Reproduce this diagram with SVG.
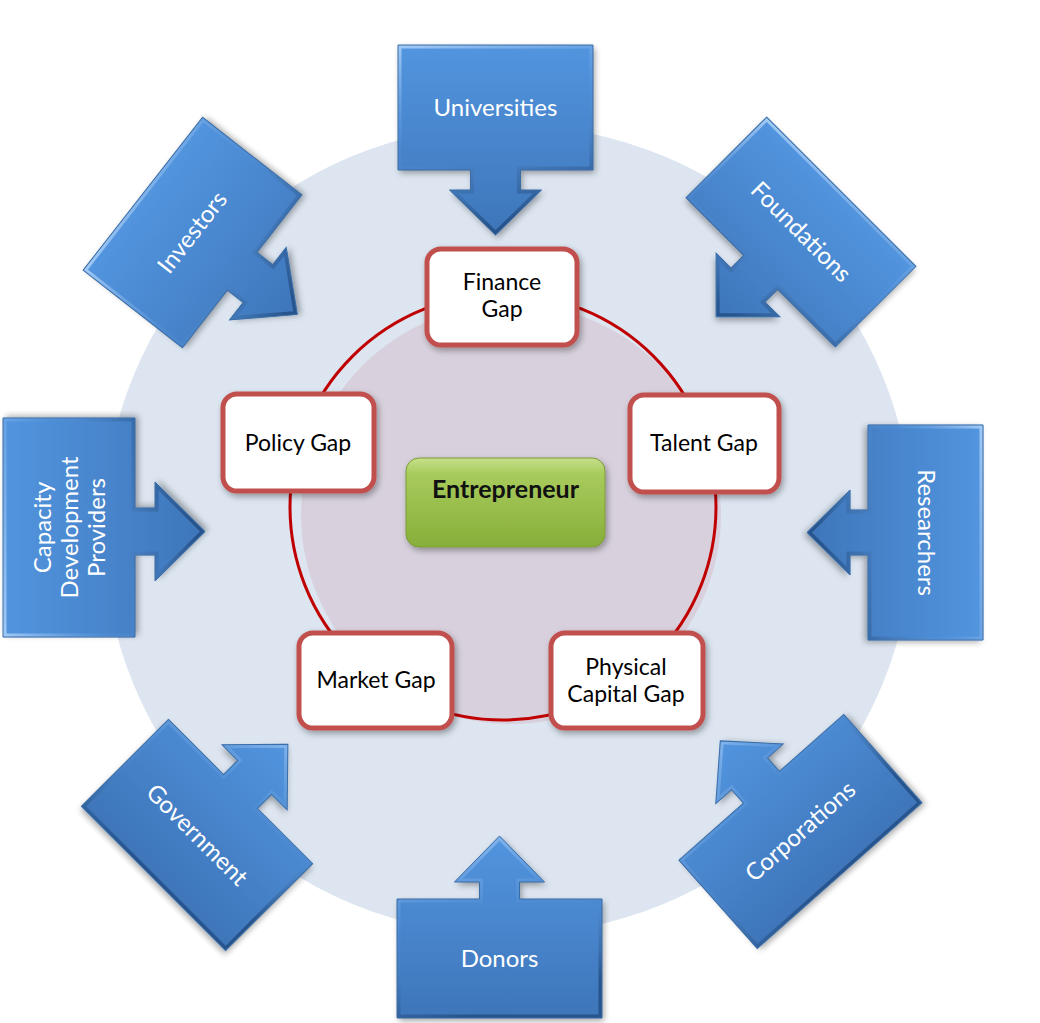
<svg xmlns="http://www.w3.org/2000/svg" xmlns:xlink="http://www.w3.org/1999/xlink" width="1040" height="1023" viewBox="0 0 1040 1023">
<defs>
<style>
.blue{fill:url(#gBlue);}
.bev{fill:none;stroke:url(#gBev);stroke-width:7;}
.edge{fill:none;stroke:#3a6da8;stroke-width:1;}
.bt{font-family:Lato,"Liberation Sans",sans-serif;font-size:24px;fill:#ffffff;text-anchor:middle;}
.box{fill:#ffffff;stroke:#c0504d;stroke-width:5;}
.gt{font-family:Lato,"Liberation Sans",sans-serif;font-size:23px;fill:#000000;text-anchor:middle;}
</style>
<linearGradient id="gBlue" x1="0" y1="0" x2="0" y2="1">
<stop offset="0" stop-color="#5295df"/><stop offset="1" stop-color="#3e75b9"/>
</linearGradient>
<linearGradient id="gBev" x1="0" y1="0" x2="0.3" y2="1">
<stop offset="0" stop-color="#a3cbf6"/><stop offset="0.5" stop-color="#5c97dc" stop-opacity="0.2"/><stop offset="1" stop-color="#27548c"/>
</linearGradient>
<linearGradient id="gGreen" x1="0" y1="0" x2="0" y2="1">
<stop offset="0" stop-color="#c6e08a"/><stop offset="0.18" stop-color="#a8cb5c"/><stop offset="1" stop-color="#87ae3a"/>
</linearGradient>
<filter id="sh" x="-20%" y="-20%" width="140%" height="140%">
<feDropShadow dx="2" dy="3" stdDeviation="3" flood-color="#000" flood-opacity="0.35"/>
</filter>
<path id="pUni" d="M -97.5,-62.5 H 97.5 V 62.5 H 25 V 82.5 H 46 L 0,127.5 L -46,82.5 H -25 V 62.5 H -97.5 Z"/>
<path id="pFou" d="M -105.5,-57 H 105.5 V 57 H 24 V 75 H 45 L 0,120 L -45,75 H -24 V 57 H -105.5 Z"/>
<path id="pRes" d="M -107.5,-57.5 H 107.5 V 57.5 H 22.5 V 75.5 H 42.5 L 0,118.5 L -42.5,75.5 H -22.5 V 57.5 H -107.5 Z"/>
<path id="pCor" d="M -110,-59 H -24 V -77 H -45 L 0,-121 L 45,-77 H 24 V -59 H 110 V 59 H -110 Z"/>
<path id="pDon" d="M -102.5,-59.5 H -20 V -76.5 H -45 L 0,-122.5 L 45,-76.5 H 20 V -59.5 H 102.5 V 59.5 H -102.5 Z"/>
<path id="pGov" d="M -102,-61.5 H -24 V -81.5 H -46 L 0,-128.5 L 46,-81.5 H 24 V -61.5 H 102 V 61.5 H -102 Z"/>
<path id="pCdp" d="M -109.5,-66 H 109.5 V 66 H 19.5 V 86 H 45.5 L -4,136 L -53.5,86 H -27.5 V 66 H -109.5 Z"/>
<path id="pInv" d="M -97,-63 H 97 V 63 H 24 V 83 H 46 L 0,133 L -46,83 H -24 V 63 H -97 Z"/>
<clipPath id="cUni"><use xlink:href="#pUni"/></clipPath>
<clipPath id="cFou"><use xlink:href="#pFou"/></clipPath>
<clipPath id="cRes"><use xlink:href="#pRes"/></clipPath>
<clipPath id="cCor"><use xlink:href="#pCor"/></clipPath>
<clipPath id="cDon"><use xlink:href="#pDon"/></clipPath>
<clipPath id="cGov"><use xlink:href="#pGov"/></clipPath>
<clipPath id="cCdp"><use xlink:href="#pCdp"/></clipPath>
<clipPath id="cInv"><use xlink:href="#pInv"/></clipPath>
</defs>

<rect width="1040" height="1023" fill="#ffffff"/>
<circle id="outer-circle" cx="508" cy="530" r="405" fill="#dce5f0"/>
<circle id="inner-fill" cx="511" cy="514" r="210" fill="#d8d1dd"/>

<g id="connectors">
<circle cx="503" cy="507" r="213" fill="none" stroke="#c00000" stroke-width="3"/>
</g>

<g id="universities" transform="translate(495.5,107.5)">
<use xlink:href="#pUni" class="blue" filter="url(#sh)"/>
<use xlink:href="#pUni" class="bev" clip-path="url(#cUni)"/>
<use xlink:href="#pUni" class="edge"/>
<text class="bt" x="0" y="8">Universities</text>
</g>

<g id="foundations" transform="translate(801,232) rotate(45)">
<use xlink:href="#pFou" class="blue" filter="url(#sh)"/>
<use xlink:href="#pFou" class="bev" clip-path="url(#cFou)"/>
<use xlink:href="#pFou" class="edge"/>
<text class="bt" x="0" y="8">Foundations</text>
</g>

<g id="researchers" transform="translate(925.5,532.5) rotate(90)">
<use xlink:href="#pRes" class="blue" filter="url(#sh)"/>
<use xlink:href="#pRes" class="bev" clip-path="url(#cRes)"/>
<use xlink:href="#pRes" class="edge"/>
<text class="bt" x="0" y="8">Researchers</text>
</g>

<g id="corporations" transform="translate(800.5,831.5) rotate(-41.5)">
<use xlink:href="#pCor" class="blue" filter="url(#sh)"/>
<use xlink:href="#pCor" class="bev" clip-path="url(#cCor)"/>
<use xlink:href="#pCor" class="edge"/>
<text class="bt" x="0" y="8">Corporations</text>
</g>

<g id="donors" transform="translate(499.5,958.5)">
<use xlink:href="#pDon" class="blue" filter="url(#sh)"/>
<use xlink:href="#pDon" class="bev" clip-path="url(#cDon)"/>
<use xlink:href="#pDon" class="edge"/>
<text class="bt" x="0" y="8">Donors</text>
</g>

<g id="government" transform="translate(197,835) rotate(45)">
<use xlink:href="#pGov" class="blue" filter="url(#sh)"/>
<use xlink:href="#pGov" class="bev" clip-path="url(#cGov)"/>
<use xlink:href="#pGov" class="edge"/>
<text class="bt" x="0" y="8">Government</text>
</g>

<g id="capacity-development-providers" transform="translate(69,527.5) rotate(-90)">
<use xlink:href="#pCdp" class="blue" filter="url(#sh)"/>
<use xlink:href="#pCdp" class="bev" clip-path="url(#cCdp)"/>
<use xlink:href="#pCdp" class="edge"/>
<text class="bt" x="0" y="-18">Capacity</text>
<text class="bt" x="0" y="9">Development</text>
<text class="bt" x="0" y="36">Providers</text>
</g>

<g id="investors" transform="translate(192.5,232.5) rotate(-52)">
<use xlink:href="#pInv" class="blue" filter="url(#sh)"/>
<use xlink:href="#pInv" class="bev" clip-path="url(#cInv)"/>
<use xlink:href="#pInv" class="edge"/>
<text class="bt" x="0" y="8">Investors</text>
</g>

<g id="finance-gap">
<rect class="box" x="427" y="249" width="150" height="96" rx="14" filter="url(#sh)"/>
<text class="gt" x="502" y="290">Finance</text>
<text class="gt" x="502" y="317">Gap</text>
</g>
<g id="policy-gap">
<rect class="box" x="223" y="394" width="151" height="97" rx="14" filter="url(#sh)"/>
<text class="gt" x="298" y="451">Policy Gap</text>
</g>
<g id="talent-gap">
<rect class="box" x="630" y="395" width="149" height="97" rx="14" filter="url(#sh)"/>
<text class="gt" x="704" y="451">Talent Gap</text>
</g>
<g id="market-gap">
<rect class="box" x="299" y="633" width="153" height="95" rx="14" filter="url(#sh)"/>
<text class="gt" x="376" y="688">Market Gap</text>
</g>
<g id="physical-capital-gap">
<rect class="box" x="551" y="633" width="152" height="95" rx="14" filter="url(#sh)"/>
<text class="gt" x="626" y="675">Physical</text>
<text class="gt" x="626" y="702">Capital Gap</text>
</g>

<g id="entrepreneur">
<rect x="406" y="458" width="199" height="89" rx="13" fill="url(#gGreen)" stroke="#7c9c36" stroke-width="1" filter="url(#sh)"/>
<text x="505.5" y="498" font-family="Lato,'Liberation Sans',sans-serif" font-size="25" font-weight="bold" fill="#111111" text-anchor="middle">Entrepreneur</text>
</g>
</svg>
